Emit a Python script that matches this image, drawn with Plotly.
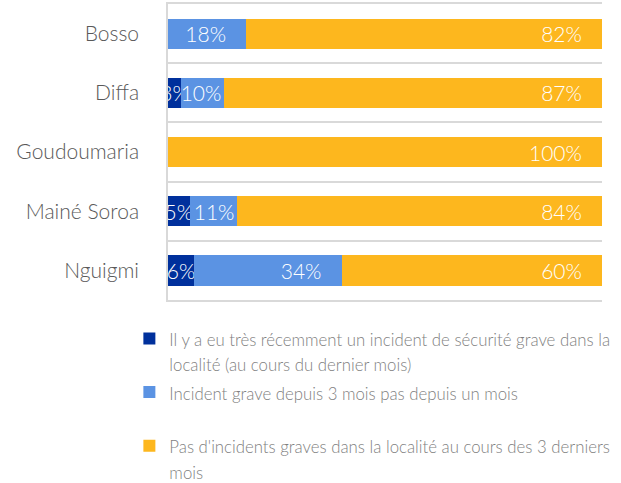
import plotly.graph_objects as go

categories = ["Bosso", "Diffa", "Goudoumaria", "Mainé Soroa", "Nguigmi"]
recent_incident = [0, 3, 0, 5, 6]
incident_3_months = [18, 10, 0, 11, 34]
no_incident = [82, 87, 100, 84, 60]

series_names = [
    "Il y a eu très récemment un incident de sécurité grave dans la<br>localité (au cours du dernier mois)",
    "Incident grave depuis 3 mois pas depuis un mois<br>\u00a0",
    "Pas d'incidents graves dans la localité au cours des 3 derniers<br>mois",
]
colors = ["#00309C", "#5B93E3", "#FDB71E"]
FONT = "Lato"
PAD = "\u00a0" * 3


def legend_label(s):
    return "<br>".join(
        '<span style="font-size:16.8px">' + part + "</span>" for part in s.split("<br>")
    )


def labels(vals, pad):
    out = []
    for v in vals:
        if v <= 0:
            out.append("")
        elif pad and v >= 15:
            out.append(f"{v}%" + PAD)
        else:
            out.append(f"{v}%")
    return out


fig = go.Figure()
anchors = ["middle", "end", "end"]
for vals, name, color, anc in zip(
    [recent_incident, incident_3_months, no_incident], series_names, colors, anchors
):
    fig.add_trace(
        go.Bar(
            y=categories,
            x=vals,
            orientation="h",
            name=legend_label(name),
            marker=dict(color=color, line=dict(width=0)),
            text=labels(vals, anc == "end"),
            texttemplate="%{text}",
            textposition="inside",
            insidetextanchor=anc,
            textangle=0,
            constraintext="none",
            textfont=dict(family=FONT, size=21, color="white", weight=300),
            cliponaxis=True,
        )
    )

fig.update_layout(
    width=621,
    height=483,
    barmode="stack",
    bargap=0.49,
    plot_bgcolor="white",
    paper_bgcolor="white",
    margin=dict(l=168, r=19, t=4, b=183, autoexpand=False),
    font=dict(family=FONT, color="#595959"),
    xaxis=dict(
        range=[0, 100],
        showticklabels=False,
        ticks="",
        showgrid=False,
        zeroline=False,
        showline=True,
        mirror=True,
        linecolor="#D9D9D9",
        linewidth=1.5,
        fixedrange=True,
    ),
    yaxis=dict(
        autorange="reversed",
        automargin=False,
        tickson="boundaries",
        showgrid=True,
        gridcolor="#D9D9D9",
        gridwidth=1.5,
        showline=True,
        linecolor="#D9D9D9",
        linewidth=1.5,
        ticks="",
        ticklabelstandoff=23,
        tickfont=dict(family=FONT, size=21, color="#595959", weight=300),
        fixedrange=True,
    ),
    legend=dict(
        x=-0.089,
        y=-0.065,
        xanchor="left",
        yanchor="top",
        valign="top",
        traceorder="normal",
        font=dict(family=FONT, size=19.5, color="#7F7F7F", weight=300),
        itemwidth=30,
        tracegroupgap=0,
    ),
    showlegend=True,
)

fig.write_html(
    "out.html",
    config={"displayModeBar": False},
    post_script="document.body.style.margin='0px';document.body.style.overflow='hidden';",
)
